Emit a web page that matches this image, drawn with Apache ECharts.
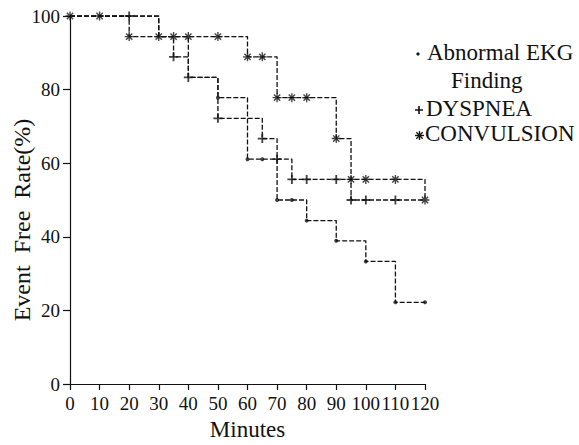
<!DOCTYPE html>
<html>
<head>
<meta charset="utf-8">
<script src="https://cdn.jsdelivr.net/npm/echarts@6/dist/echarts.min.js"></script>
<style>
html,body{margin:0;padding:0;background:#fff;}
#chart{width:579px;height:445px;}
</style>
</head>
<body>
<div id="chart"></div>
<script>
// ---- data ----
const xTicks = [0, 10, 20, 30, 40, 50, 60, 70, 80, 90, 100, 110, 120];
const seriesNames = ['Abnormal EKG Finding', 'DYSPNEA', 'CONVULSION'];
const legendLines = [['Abnormal EKG', 'Finding'], ['DYSPNEA'], ['CONVULSION']];

// step curves (time where value starts, value)
const ekgTimes = [0, 30, 40, 50, 60, 70, 80, 90, 100, 110, 120];
const ekgValues = [100, 94.4, 83.3, 77.8, 61.1, 50, 44.4, 38.9, 33.3, 22.2, 22.2];
const dysTimes = [0, 30, 35, 40, 50, 65, 70, 75, 95, 120];
const dysValues = [100, 94.4, 88.9, 83.3, 72.2, 66.7, 61.1, 55.6, 50, 50];
const conTimes = [0, 20, 60, 70, 90, 95, 120];
const conValues = [100, 94.4, 88.9, 77.8, 66.7, 55.6, 50];

// observation markers
const ekgMarkTimes = [50, 60, 65, 70, 75, 80, 90, 100, 110, 120];
const ekgMarkValues = [77.8, 61.1, 61.1, 50, 50, 44.4, 38.9, 33.3, 22.2, 22.2];
const dysMarkTimes = [20, 35, 40, 50, 65, 70, 75, 80, 90, 95, 100, 110];
const dysMarkValues = [100, 88.9, 83.3, 72.2, 66.7, 61.1, 55.6, 55.6, 55.6, 50, 50, 50];
const conMarkTimes = [0, 10, 20, 30, 35, 40, 50, 60, 65, 70, 75, 80, 90, 95, 100, 110, 120];
const conMarkValues = [100, 100, 94.4, 94.4, 94.4, 94.4, 94.4, 88.9, 88.9, 77.8, 77.8, 77.8, 66.7, 55.6, 55.6, 55.6, 50];

// ---- chart ----
const zip = (a, b) => a.map((v, i) => [v, b[i]]);
const FONT = '"Liberation Serif", "Times New Roman", serif';
const INK = '#111';
const PLUS = 'path://M4,0H6V4H10V6H6V10H4V6H0V4H4Z';
const STAR = 'path://M0,8.5L20,8.5L20,11.5L0,11.5Z M8.5,0L11.5,0L11.5,20L8.5,20Z M4.06,1.94L18.06,15.94L15.94,18.06L1.94,4.06Z M15.94,1.94L18.06,4.06L4.06,18.06L1.94,15.94Z';
const plusPts = [[4,0],[6,0],[6,4],[10,4],[10,6],[6,6],[6,10],[4,10],[4,6],[0,6],[0,4],[4,4]];
const starPolys = [
  [[0,8.5],[20,8.5],[20,11.5],[0,11.5]],
  [[8.5,0],[11.5,0],[11.5,20],[8.5,20]],
  [[4.06,1.94],[18.06,15.94],[15.94,18.06],[1.94,4.06]],
  [[15.94,1.94],[18.06,4.06],[4.06,18.06],[1.94,15.94]]
];

const lineStyle = {color: INK, width: 1.3, type: [5, 2]};
function stepLine(name, t, v) {
  return {name, type: 'line', step: 'end', data: zip(t, v), showSymbol: false,
    lineStyle, itemStyle: {color: INK}, silent: true, animation: false};
}
function marks(name, t, v, symbol, size) {
  return {name, type: 'scatter', data: zip(t, v), symbol, symbolSize: size,
    itemStyle: {color: INK}, silent: true, animation: false, z: 5};
}

const chart = echarts.init(document.getElementById('chart'), null, {renderer: 'svg'});

const LF = '23px ' + FONT;
const legendTop = 41;
const graphic = [
  {type: 'circle', shape: {cx: 418, cy: 54, r: 1.6}, style: {fill: INK}},
  {type: 'text', x: 427, y: legendTop, style: {text: legendLines[0][0], font: LF, fill: INK}},
  {type: 'text', x: 451, y: legendTop + 28, style: {text: legendLines[0][1], font: LF, fill: INK}},
  {type: 'group', x: 415, y: 106, scaleX: 0.8, scaleY: 0.8,
    children: [{type: 'polygon', shape: {points: plusPts}, style: {fill: INK}}]},
  {type: 'text', x: 426, y: legendTop + 56, style: {text: legendLines[1][0], font: LF, fill: INK}},
  {type: 'group', x: 415, y: 131, scaleX: 0.45, scaleY: 0.45,
    children: starPolys.map(p => ({type: 'polygon', shape: {points: p}, style: {fill: INK}}))},
  {type: 'text', x: 425, y: legendTop + 81, style: {text: legendLines[2][0], font: LF, fill: INK}}
];

chart.setOption({
  backgroundColor: '#fff',
  animation: false,
  grid: {left: 70, right: 154, top: 16, bottom: 61, containLabel: false, outerBoundsMode: 'none'},
  xAxis: {
    type: 'value', min: 0, max: 120, interval: 10,
    name: 'Minutes', nameLocation: 'middle', nameGap: 34, nameMoveOverlap: false,
    nameTextStyle: {fontFamily: FONT, fontSize: 23, color: INK},
    axisLine: {onZero: false, lineStyle: {color: INK, width: 1.2}},
    axisTick: {show: true, length: 6, lineStyle: {color: INK, width: 1.2}},
    axisLabel: {color: INK, fontFamily: FONT, fontSize: 19, margin: 10,
      formatter: v => xTicks.includes(v) ? String(v) : ''},
    splitLine: {show: false}
  },
  yAxis: {
    type: 'value', min: 0, max: 100, interval: 20,
    name: 'Event  Free  Rate(%)', nameLocation: 'middle', nameGap: 36, nameMoveOverlap: false,
    nameTextStyle: {fontFamily: FONT, fontSize: 24, color: INK, padding: [0, 40, 0, 0]},
    axisLine: {show: true, lineStyle: {color: INK, width: 1.2}},
    axisTick: {show: true, length: 7, lineStyle: {color: INK, width: 1.2}},
    axisLabel: {color: INK, fontFamily: FONT, fontSize: 19, margin: 10},
    splitLine: {show: false}
  },
  series: [
    stepLine(seriesNames[0], ekgTimes, ekgValues),
    stepLine(seriesNames[1], dysTimes, dysValues),
    stepLine(seriesNames[2], conTimes, conValues),
    marks(seriesNames[0], ekgMarkTimes, ekgMarkValues, 'circle', 4),
    marks(seriesNames[1], dysMarkTimes, dysMarkValues, PLUS, 9),
    marks(seriesNames[2], conMarkTimes, conMarkValues, STAR, 9)
  ],
  graphic
});
</script>
</body>
</html>
